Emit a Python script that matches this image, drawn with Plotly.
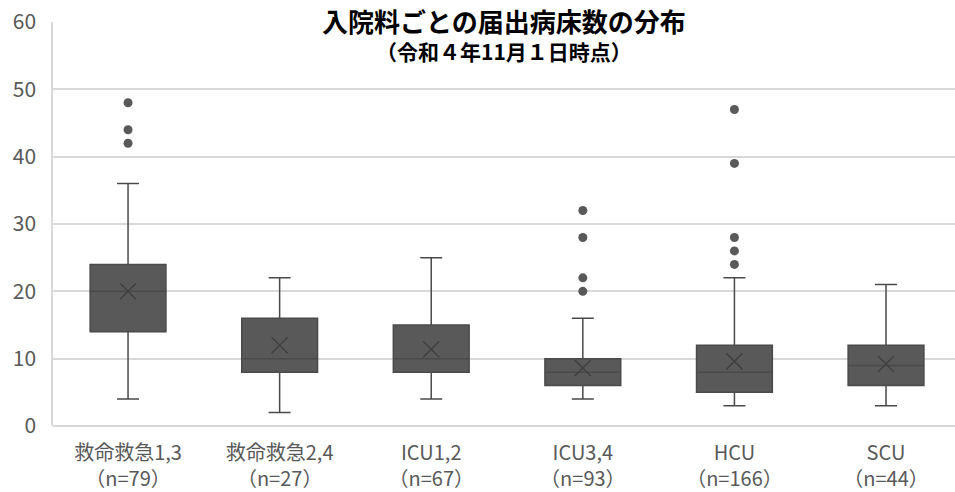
import plotly.graph_objects as go

# カテゴリとラベル
categories = ["救命救急1,3", "救命救急2,4", "ICU1,2", "ICU3,4", "HCU", "SCU"]
n_counts = [79, 27, 67, 93, 166, 44]
tick_labels = [f"{c}<br>（n={n}）" for c, n in zip(categories, n_counts)]

# 箱ひげ図の統計量
q1 = [14, 8, 8, 6, 5, 6]
median = [20, 10, 10, 8, 8, 9]
q3 = [24, 16, 15, 10, 12, 12]
lower = [4, 2, 4, 4, 3, 3]
upper = [36, 22, 25, 16, 22, 21]
means = [20.0, 12.0, 11.4, 8.6, 9.6, 9.2]

# 外れ値
out_cat = ["救命救急1,3"] * 3 + ["ICU3,4"] * 4 + ["HCU"] * 5
out_val = [48, 44, 42, 32, 28, 22, 20, 47, 39, 28, 26, 24]

box_col = "#595959"
line_col = "#4a4a4a"
text_col = "#595959"

fig = go.Figure()

fig.add_trace(go.Box(
    x=categories, q1=q1, median=median, q3=q3,
    lowerfence=lower, upperfence=upper,
    fillcolor=box_col, line=dict(color=line_col, width=1.5),
    width=0.5, whiskerwidth=0.29, boxpoints=False,
    showlegend=False, hoverinfo="skip",
))

# 外れ値
fig.add_trace(go.Scatter(
    x=out_cat, y=out_val, mode="markers",
    marker=dict(color=box_col, size=9), showlegend=False,
))

# 平均（×印）
fig.add_trace(go.Scatter(
    x=categories, y=means, mode="markers",
    marker=dict(symbol="x-thin", size=16, line=dict(color="#404040", width=1.5)),
    showlegend=False,
))

fig.update_layout(
    width=955, height=492,
    margin=dict(l=53, r=0, t=22, b=66),
    plot_bgcolor="white", paper_bgcolor="white",
    font=dict(family="Noto Sans CJK JP", color=text_col),
    showlegend=False,
)

fig.update_xaxes(
    type="category", tickvals=categories, ticktext=tick_labels,
    range=[-0.495, 5.455],
    tickfont=dict(size=20, color=text_col),
    showgrid=False, showline=False, ticks="", ticklabelstandoff=13,
    automargin=False,
)

fig.update_yaxes(
    range=[0, 60], dtick=10, tickfont=dict(size=21, color=text_col),
    showgrid=True, gridcolor="#d9d9d9", gridwidth=1.5,
    showline=True, linecolor="#d9d9d9", linewidth=1.5,
    zeroline=True, zerolinecolor="#d9d9d9", zerolinewidth=1.5,
    ticks="", ticklabelstandoff=11, automargin=False,
)

# タイトル
fig.add_annotation(
    text="<b>入院料ごとの届出病床数の分布</b>", xref="paper", yref="paper",
    x=0.5, y=1.003, yanchor="middle", showarrow=False,
    font=dict(size=26, color="black"), bgcolor="white", borderpad=0,
)
fig.add_annotation(
    text="<b>（令和４年11月１日時点）</b>", xref="paper", yref="paper",
    x=0.5, y=0.928, yanchor="middle", showarrow=False,
    font=dict(size=21, color="black"),
)

fig.write_html("out.html", config={"displayModeBar": False},
               post_script="document.body.style.margin='0';")
